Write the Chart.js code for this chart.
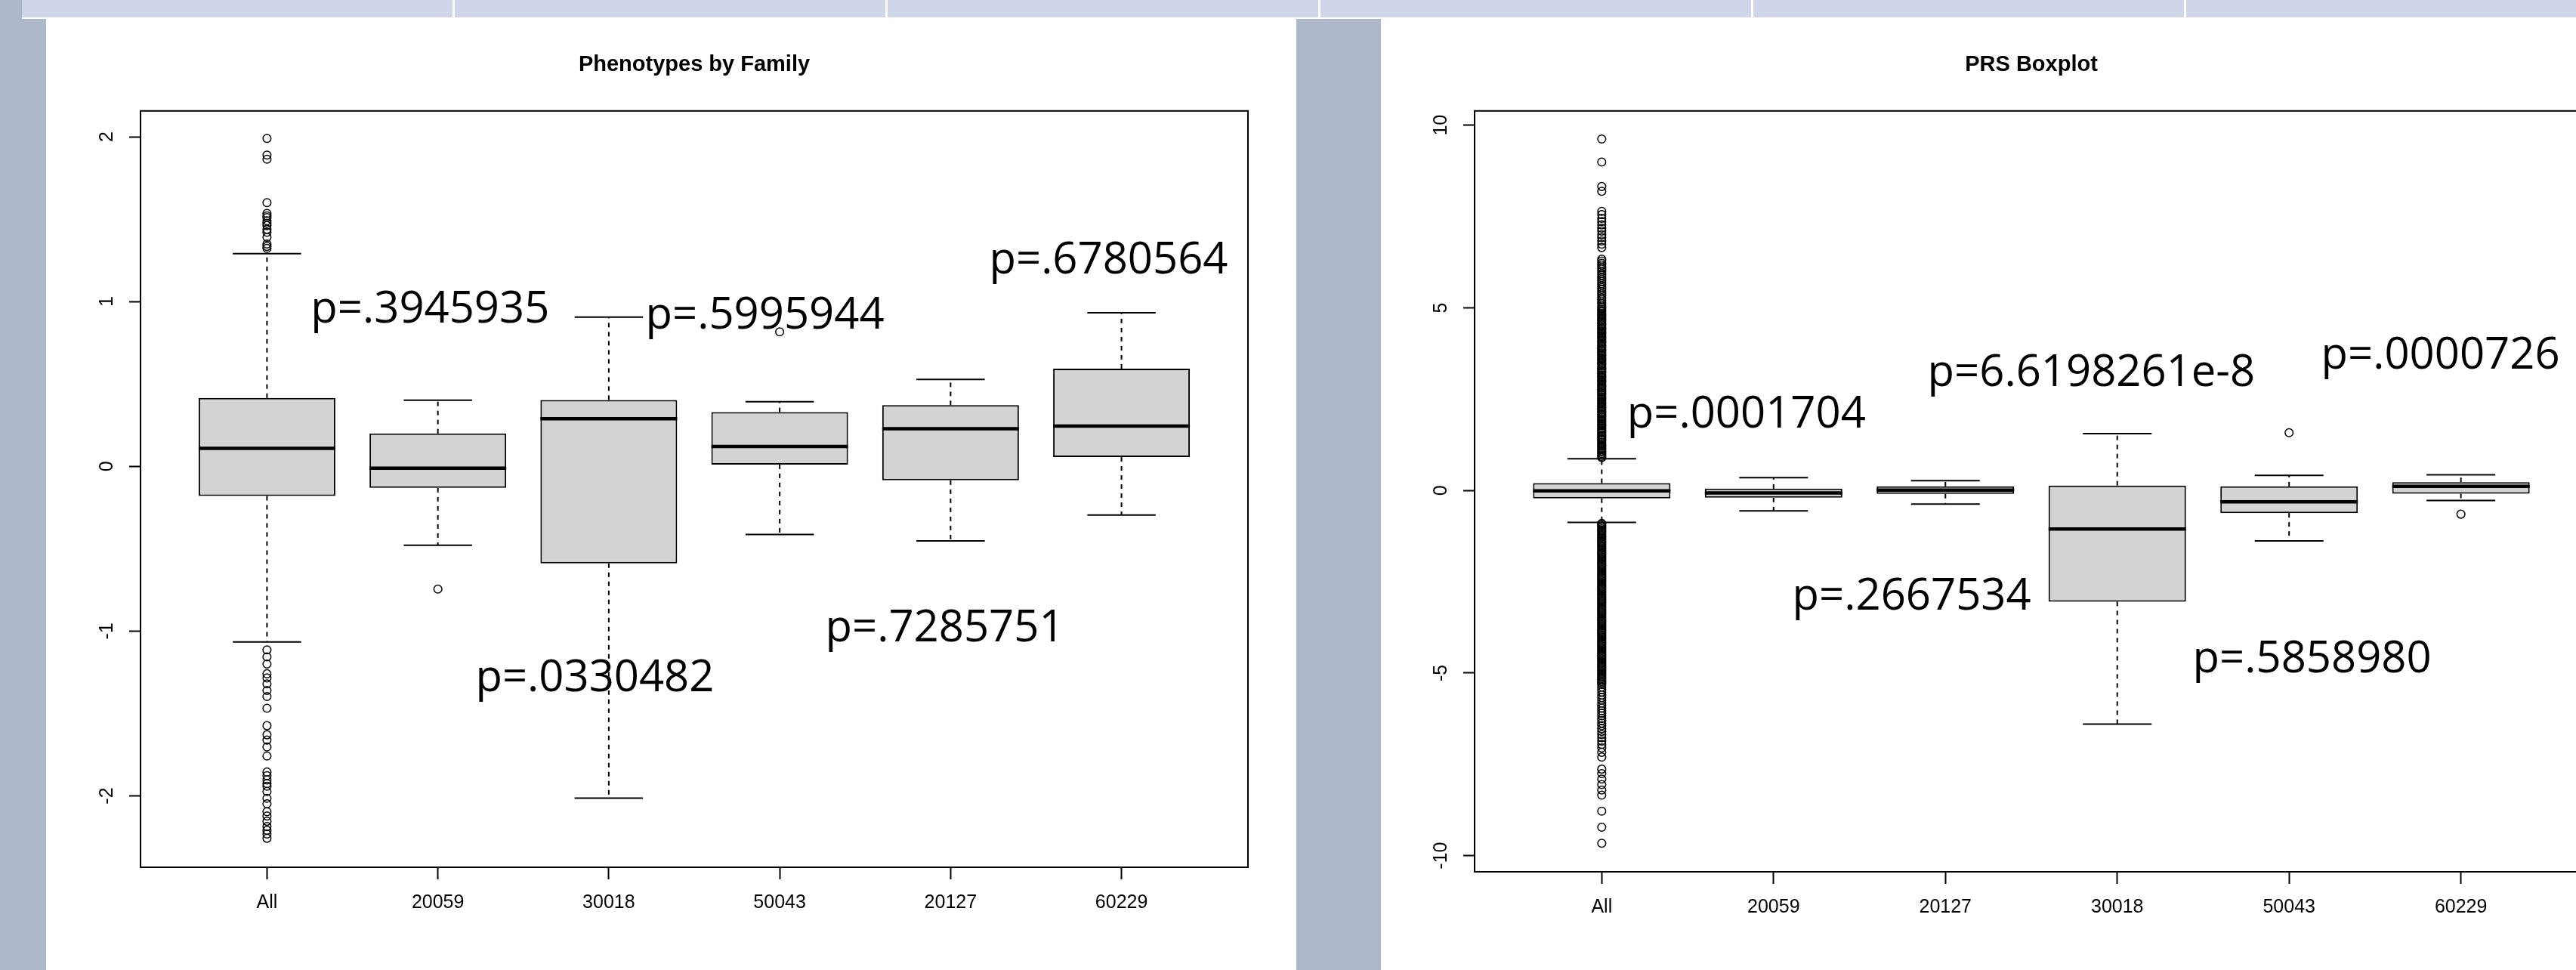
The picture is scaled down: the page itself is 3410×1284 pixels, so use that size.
<!DOCTYPE html>
<html>
<head>
<meta charset="utf-8">
<script src="https://cdn.jsdelivr.net/npm/chart.js@4.4.1/dist/chart.umd.min.js"></script>
<style>
  html, body { margin: 0; padding: 0; }
  body { width: 3410px; height: 1284px; overflow: hidden; background: #fff; position: relative; }
  .blk { position: absolute; }
  canvas { position: absolute; }
</style>
</head>
<body>
<div class="blk" style="left:0;top:0;width:29px;height:1284px;background:#adb9ca"></div>
<div class="blk" style="left:29px;top:0;width:3381px;height:23px;background:#cfd6ea"></div>
<div class="blk" style="left:599px;top:0;width:3px;height:23px;background:#fff"></div>
<div class="blk" style="left:1172px;top:0;width:3px;height:23px;background:#fff"></div>
<div class="blk" style="left:1745px;top:0;width:3px;height:23px;background:#fff"></div>
<div class="blk" style="left:2318px;top:0;width:3px;height:23px;background:#fff"></div>
<div class="blk" style="left:2891px;top:0;width:3px;height:23px;background:#fff"></div>
<div class="blk" style="left:29px;top:25px;width:32px;height:1259px;background:#adb9ca"></div>
<div class="blk" style="left:1716px;top:25px;width:112px;height:1259px;background:#adb9ca"></div>
<canvas id="left" width="1655" height="1259" style="left:61px;top:25px"></canvas>
<canvas id="right" width="1700" height="1259" style="left:1828px;top:25px"></canvas>
<script>
// ---- Phenotypes by Family ----
var leftCategories = ['All', '20059', '30018', '50043', '20127', '60229'];
var leftLow    = [-1.066, -0.479, -2.013, -0.414, -0.452, -0.296];
var leftQ1     = [-0.180, -0.131, -0.589,  0.011, -0.085,  0.056];
var leftMedian = [ 0.109, -0.011,  0.289,  0.121,  0.228,  0.244];
var leftQ3     = [ 0.415,  0.200,  0.403,  0.329,  0.371,  0.593];
var leftHigh   = [ 1.291,  0.401,  0.906,  0.392,  0.528,  0.932];
var leftOutliers = [
  [1.99, 1.889, 1.864, 1.6, 1.535, 1.52, 1.51, 1.49, 1.475, 1.461, 1.438, 1.42, 1.39, 1.349, 1.335, 1.323,
   -1.114, -1.156, -1.2, -1.259, -1.284, -1.32, -1.36, -1.397, -1.468, -1.574, -1.629, -1.661, -1.703,
   -1.758, -1.855, -1.877, -1.903, -1.925, -1.941, -1.973, -2.015, -2.048, -2.096, -2.122, -2.154,
   -2.186, -2.209, -2.231, -2.257],
  [-0.745], [], [0.816], [], []
];
var leftYTicks = [-2, -1, 0, 1, 2];
var leftNotes = ['p=.3945935', 'p=.5995944', 'p=.6780564', 'p=.0330482', 'p=.7285751'];
var leftNoteX = [1.256, 3.215, 5.226, 2.220, 4.267];
var leftNoteY = [0.874, 0.837, 1.172, -1.365, -1.062];

// ---- PRS Boxplot ----
var rightCategories = ['All', '20059', '20127', '30018', '50043', '60229'];
var rightLow    = [-0.874, -0.560, -0.373, -6.395, -1.380, -0.276];
var rightQ1     = [-0.220, -0.200, -0.095, -3.044, -0.620, -0.090];
var rightMedian = [-0.010, -0.066,  0.008, -1.056, -0.310,  0.110];
var rightQ3     = [ 0.200,  0.048,  0.110,  0.135,  0.110,  0.228];
var rightHigh   = [ 0.866,  0.352,  0.270,  1.553,  0.414,  0.428];
var rightOutliers = [
  [0.90, 0.93, 0.97, 1.01, 1.05, 1.08, 1.12, 1.16, 1.21, 1.24, 1.28, 1.32, 1.37, 1.40, 1.44, 1.48, 1.52,
   1.57, 1.60, 1.64, 1.68, 1.72, 1.77, 1.80, 1.84, 1.89, 1.92, 1.96, 2.01, 2.04, 2.08, 2.13, 2.16, 2.20,
   2.25, 2.28, 2.32, 2.37, 2.40, 2.44, 2.49, 2.52, 2.56, 2.61, 2.64, 2.68, 2.73, 2.76, 2.80, 2.85, 2.88,
   2.92, 2.97, 3.00, 3.04, 3.09, 3.12, 3.16, 3.21, 3.24, 3.28, 3.33, 3.36, 3.40, 3.45, 3.48, 3.52, 3.57,
   3.60, 3.64, 3.69, 3.72, 3.76, 3.81, 3.84, 3.88, 3.93, 3.96, 4.00, 4.05, 4.08, 4.12, 4.17, 4.20, 4.24,
   4.29, 4.32, 4.36, 4.41, 4.44, 4.48, 4.53, 4.56, 4.60, 4.65, 4.68, 4.72, 4.77, 4.80, 4.84, 4.89, 4.92,
   4.96, 5.01, 5.05, 5.11, 5.16, 5.22, 5.27, 5.33, 5.38, 5.44, 5.50, 5.55, 5.61, 5.66, 5.72, 5.78, 5.83,
   5.89, 5.94, 6.00, 6.06, 6.11, 6.17, 6.22, 6.28, 6.33, 6.65, 6.74, 6.83, 6.92, 7.00, 7.10, 7.18, 7.27,
   7.36, 7.45, 7.55, 7.64, 8.19, 8.32, 8.99, 9.62,
   -0.90, -0.93, -0.97, -1.01, -1.05, -1.09, -1.12, -1.16, -1.20, -1.24, -1.28, -1.32, -1.36, -1.40,
   -1.43, -1.47, -1.51, -1.55, -1.59, -1.63, -1.67, -1.71, -1.74, -1.78, -1.82, -1.86, -1.90, -1.94,
   -1.98, -2.02, -2.05, -2.09, -2.13, -2.17, -2.21, -2.25, -2.29, -2.33, -2.36, -2.40, -2.44, -2.48,
   -2.52, -2.56, -2.60, -2.64, -2.67, -2.71, -2.75, -2.79, -2.83, -2.87, -2.91, -2.95, -2.98, -3.02,
   -3.06, -3.10, -3.14, -3.18, -3.22, -3.26, -3.29, -3.33, -3.37, -3.41, -3.45, -3.49, -3.53, -3.57,
   -3.60, -3.64, -3.68, -3.72, -3.76, -3.80, -3.84, -3.88, -3.91, -3.95, -3.99, -4.03, -4.07, -4.11,
   -4.15, -4.19, -4.22, -4.26, -4.30, -4.34, -4.38, -4.42, -4.46, -4.50, -4.53, -4.57, -4.61, -4.65,
   -4.69, -4.73, -4.77, -4.81, -4.84, -4.88, -4.92, -4.96, -5.00, -5.04, -5.08, -5.12, -5.15, -5.19,
   -5.23, -5.27, -5.31, -5.38, -5.45, -5.52, -5.60, -5.67, -5.74, -5.82, -5.89, -5.96, -6.03, -6.10,
   -6.17, -6.24, -6.30, -6.37, -6.44, -6.52, -6.60, -6.68, -6.77, -6.86, -6.95, -7.05, -7.17, -7.30,
   -7.63, -7.75, -7.90, -8.05, -8.20, -8.34, -8.78, -9.22, -9.66],
  [], [], [], [1.58], [-0.65]
];
var rightYTicks = [-10, -5, 0, 5, 10];
var rightNotes = ['p=.0001704', 'p=6.6198261e-8', 'p=.0000726', 'p=.2667534', 'p=.5858980'];
var rightNoteX = [1.147, 2.896, 5.186, 2.109, 4.439];
var rightNoteY = [1.72, 2.86, 3.335, -3.27, -4.99];

Chart.defaults.font.family = '"Liberation Sans", Arial, sans-serif';
Chart.defaults.color = '#000';

// medians, whiskers, frame, rotated y labels and p-value notes
var boxExtras = {
  id: 'boxExtras',
  afterDatasetsDraw: function(chart, args, opts) {
    var ctx = chart.ctx, a = chart.chartArea;
    var ys = chart.scales.y, xs = chart.scales.x;
    var bars = chart.getDatasetMeta(0).data;
    function seg(x1, y1, x2, y2) {
      ctx.beginPath(); ctx.moveTo(x1, y1); ctx.lineTo(x2, y2); ctx.stroke();
    }
    ctx.save();
    ctx.strokeStyle = '#000';
    ctx.lineCap = 'butt';
    bars.forEach(function(bar, i) {
      var cx = bar.x, half = bar.width / 2;
      var yMed = ys.getPixelForValue(opts.median[i]);
      ctx.lineWidth = 4.5;
      ctx.setLineDash([]);
      seg(cx - half, yMed, cx + half, yMed);
      ctx.lineWidth = 2;
      ctx.setLineDash([6, 6]);
      seg(cx, ys.getPixelForValue(opts.q3[i]), cx, ys.getPixelForValue(opts.high[i]));
      seg(cx, ys.getPixelForValue(opts.q1[i]), cx, ys.getPixelForValue(opts.low[i]));
      ctx.setLineDash([]);
      seg(cx - half / 2, ys.getPixelForValue(opts.high[i]), cx + half / 2, ys.getPixelForValue(opts.high[i]));
      seg(cx - half / 2, ys.getPixelForValue(opts.low[i]), cx + half / 2, ys.getPixelForValue(opts.low[i]));
    });
    ctx.lineWidth = 2;
    ctx.strokeRect(a.left, a.top, a.right - a.left, a.bottom - a.top);

    ctx.fillStyle = '#000';
    ctx.font = '25px "Liberation Sans", Arial, sans-serif';
    ctx.textAlign = 'center';
    ctx.textBaseline = 'middle';
    ys.ticks.forEach(function(t) {
      ctx.save();
      ctx.translate(a.left - 44, ys.getPixelForValue(t.value));
      ctx.rotate(-Math.PI / 2);
      ctx.fillText(String(t.value), 0, 0);
      ctx.restore();
    });

    ctx.font = '58px "Open Sans", "Noto Sans", sans-serif';
    ctx.textAlign = 'left';
    ctx.textBaseline = 'alphabetic';
    opts.notes.forEach(function(txt, i) {
      ctx.fillText(txt, xs.getPixelForValue(opts.noteX[i]), ys.getPixelForValue(opts.noteY[i]));
    });
    ctx.restore();
  }
};

function makeBoxChart(id, title, cats, low, q1, med, q3, high, outliers, yTicks, yMin, yMax,
                      notes, noteX, noteY, yAxisWidth, xAxisHeight, padRight) {
  var boxes = q1.map(function(v, i) { return { x: i + 1, y: [v, q3[i]] }; });
  var points = [];
  outliers.forEach(function(list, i) {
    list.forEach(function(v) { points.push({ x: i + 1, y: v }); });
  });

  return new Chart(document.getElementById(id), {
    type: 'bar',
    data: {
      datasets: [{
        type: 'bar',
        data: boxes,
        backgroundColor: '#d3d3d3',
        borderColor: '#000',
        borderWidth: 2,
        borderSkipped: false,
        barPercentage: 0.8,
        categoryPercentage: 1
      }, {
        type: 'scatter',
        data: points,
        pointStyle: 'circle',
        pointRadius: 5.3,
        pointBorderWidth: 1.5,
        pointBorderColor: '#000',
        pointBackgroundColor: 'rgba(0,0,0,0)'
      }]
    },
    options: {
      responsive: false,
      animation: false,
      devicePixelRatio: 1,
      events: [],
      layout: { padding: { left: 0, right: padRight, top: 0, bottom: 0 } },
      plugins: {
        legend: { display: false },
        tooltip: { enabled: false },
        title: {
          display: true,
          text: title,
          fullSize: false,
          color: '#000',
          font: { size: 29, weight: 'bold' },
          padding: { top: 44, bottom: 43 }
        },
        boxExtras: {
          median: med, q1: q1, q3: q3, low: low, high: high,
          notes: notes, noteX: noteX, noteY: noteY
        }
      },
      scales: {
        x: {
          type: 'linear',
          min: 0.26,
          max: 6.74,
          bounds: 'data',
          offset: false,
          grid: { offset: false, drawOnChartArea: false, drawTicks: true, tickLength: 16, tickWidth: 2, tickColor: '#000' },
          border: { display: false },
          ticks: {
            autoSkip: false,
            maxRotation: 0,
            padding: 16,
            color: '#000',
            font: { size: 25 },
            callback: function(v) { return cats[Math.round(v) - 1]; }
          },
          afterBuildTicks: function(axis) {
            axis.ticks = cats.map(function(c, i) { return { value: i + 1 }; });
          },
          afterFit: function(s) { s.height = xAxisHeight; }
        },
        y: {
          type: 'linear',
          min: yMin,
          max: yMax,
          bounds: 'data',
          grid: { drawOnChartArea: false, drawTicks: true, tickLength: 15, tickWidth: 2, tickColor: '#000' },
          border: { display: false },
          ticks: { display: false },
          afterBuildTicks: function(axis) {
            axis.ticks = yTicks.map(function(v) { return { value: v }; });
          },
          afterFit: function(s) { s.width = yAxisWidth; }
        }
      }
    },
    plugins: [boxExtras]
  });
}

makeBoxChart('left', 'Phenotypes by Family', leftCategories, leftLow, leftQ1, leftMedian, leftQ3, leftHigh,
  leftOutliers, leftYTicks, -2.433, 2.157, leftNotes, leftNoteX, leftNoteY, 125, 136, 64);
makeBoxChart('right', 'PRS Boxplot', rightCategories, rightLow, rightQ1, rightMedian, rightQ3, rightHigh,
  rightOutliers, rightYTicks, -10.44, 10.39, rightNotes, rightNoteX, rightNoteY, 124, 130, 102);
</script>
</body>
</html>
